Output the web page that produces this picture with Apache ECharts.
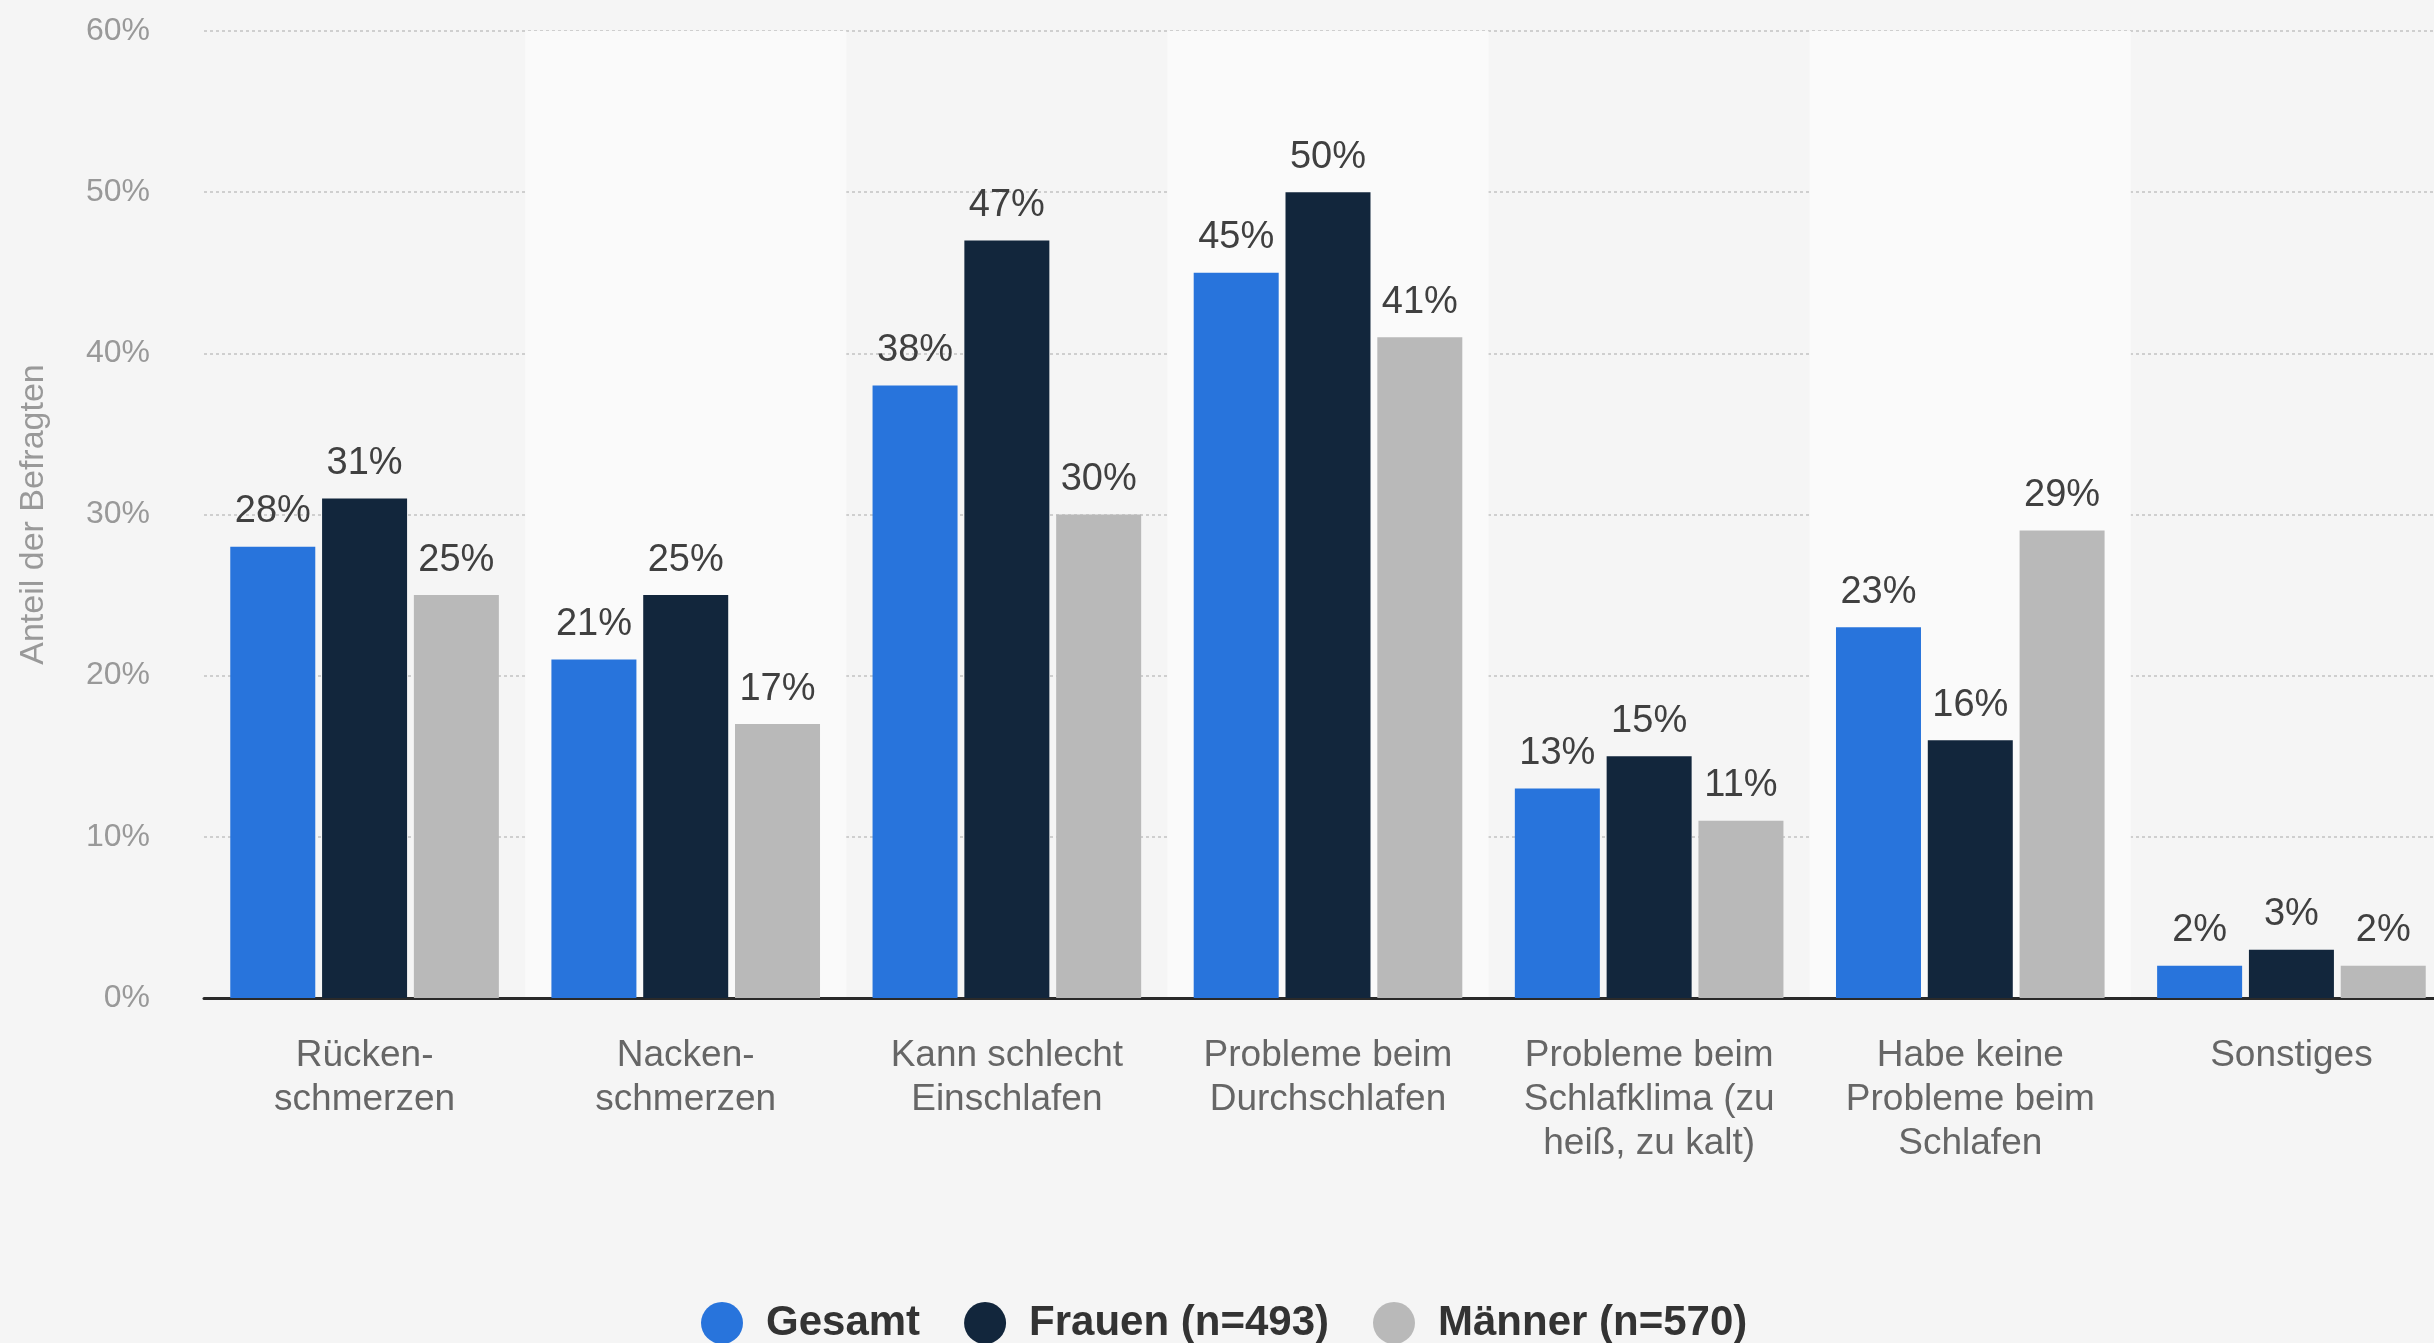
<!DOCTYPE html>
<html>
<head>
<meta charset="utf-8">
<script src="https://cdn.jsdelivr.net/npm/echarts@6/dist/echarts.min.js"></script>
<style>
html,body{margin:0;padding:0;background:#f5f5f5;overflow:hidden;}
#c{width:2434px;height:1343px;}
</style>
</head>
<body>
<div id="c"></div>
<script>
const categories = [
  "Rücken-\nschmerzen",
  "Nacken-\nschmerzen",
  "Kann schlecht\nEinschlafen",
  "Probleme beim\nDurchschlafen",
  "Probleme beim\nSchlafklima (zu\nheiß, zu kalt)",
  "Habe keine\nProbleme beim\nSchlafen",
  "Sonstiges"
];
const seriesNames = ["Gesamt", "Frauen (n=493)", "Männer (n=570)"];
const gesamt = [28, 21, 38, 45, 13, 23, 2];
const frauen = [31, 25, 47, 50, 15, 16, 3];
const maenner = [25, 17, 30, 41, 11, 29, 2];
const yTicks = { min: 0, max: 60, interval: 10 };
const colors = ["#2874dc", "#12263c", "#b9b9b9"];

const font = "'Liberation Sans', Arial, Helvetica, sans-serif";
const chart = echarts.init(document.getElementById('c'));
const mk = (name, data, color) => ({
  name, type: 'bar', data,
  barWidth: 85, barGap: '8%',
  itemStyle: { color },
  label: {
    show: true, position: 'top', distance: 16,
    formatter: '{c}%', color: '#404040', fontSize: 38, fontFamily: font
  },
  emphasis: { disabled: true }
});
chart.setOption({
  backgroundColor: '#f5f5f5',
  animation: false,
  grid: { left: 204, right: -18, top: 31, bottom: 345, containLabel: false, outerBoundsMode: 'none' },
  legend: {
    left: 696, top: 1297,
    icon: 'circle', itemWidth: 42, itemHeight: 42, itemGap: 44,
    textStyle: { fontSize: 42, fontWeight: 'bold', color: '#333', fontFamily: font, padding: [0, 0, 0, 18] },
    data: seriesNames
  },
  xAxis: {
    type: 'category', data: categories,
    axisLine: { show: true, lineStyle: { color: '#2a2a2a', width: 3 } },
    axisTick: { show: false },
    splitArea: { show: true, areaStyle: { color: ['rgba(0,0,0,0)', '#fafafa'] } },
    axisLabel: { interval: 0, margin: 36, fontSize: 37, lineHeight: 44, color: '#666', fontFamily: font }
  },
  yAxis: {
    type: 'value', min: yTicks.min, max: yTicks.max, interval: yTicks.interval,
    name: 'Anteil der Befragten', nameLocation: 'middle', nameGap: 153,
    nameTextStyle: { fontSize: 34, color: '#999', fontFamily: font },
    axisLine: { show: false }, axisTick: { show: false },
    axisLabel: { formatter: '{value}%', margin: 54, fontSize: 32, color: '#999', fontFamily: font },
    splitLine: { show: true, lineStyle: { color: '#cfcfcf', width: 2, type: [3, 3] } }
  },
  series: [
    mk(seriesNames[0], gesamt, colors[0]),
    mk(seriesNames[1], frauen, colors[1]),
    mk(seriesNames[2], maenner, colors[2])
  ]
});
</script>
</body>
</html>
